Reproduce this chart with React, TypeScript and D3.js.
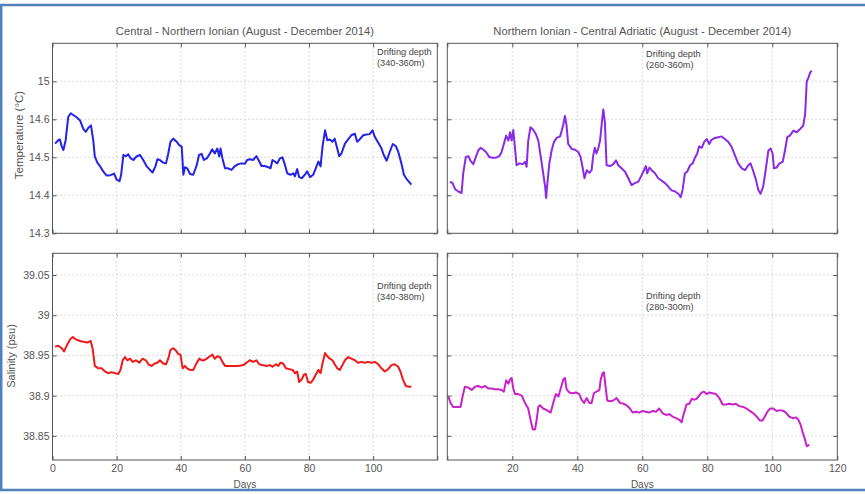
import { useEffect, useRef } from 'react';
import * as d3 from 'd3';

// days since deployment
const dayTicks = [0, 20, 40, 60, 80, 100, 120];
const tempTicks = [14.3, 14.4, 14.5, 14.6, 14.7];
const tempTickLabels = ['14.3', '14.4', '14.5', '14.6', '15'];
const salTicks = [38.85, 38.9, 38.95, 39, 39.05];
const salTickLabels = ['38.85', '38.9', '38.95', '39', '39.05'];

const titles = [
  'Central - Northern Ionian (August - December 2014)',
  'Northern Ionian - Central Adriatic (August - December 2014)',
];
const depths = ['(340-360m)', '(260-360m)', '(340-380m)', '(280-300m)'];

// [day, temperature °C]
const tempIonian: [number, number][] = [
  [0.8,14.536],[1.8,14.545],[2.3,14.547],[2.9,14.528],[3.4,14.519],[4.1,14.545],[4.9,14.606],[5.7,14.616],[6.7,14.61],[7.7,14.604],
  [8.6,14.597],[9.6,14.575],[10.4,14.567],[11.2,14.578],[12.0,14.584],[12.7,14.545],[13.2,14.502],[14.0,14.486],[14.8,14.477],[15.8,14.463],
  [16.9,14.452],[18.1,14.453],[19.2,14.457],[20.0,14.441],[20.9,14.437],[21.4,14.454],[22.1,14.506],[22.9,14.503],[23.6,14.508],[24.4,14.497],
  [25.2,14.493],[26.2,14.502],[27.3,14.506],[28.3,14.493],[29.4,14.476],[30.4,14.467],[31.2,14.46],[32.1,14.476],[32.7,14.495],[33.5,14.493],
  [34.5,14.486],[35.4,14.484],[36.1,14.51],[36.8,14.541],[37.7,14.549],[38.7,14.541],[39.5,14.532],[40.3,14.528],[40.8,14.454],[41.3,14.474],
  [42.0,14.471],[42.9,14.456],[43.9,14.454],[45.0,14.48],[45.7,14.506],[46.5,14.509],[47.2,14.493],[48.1,14.497],[49.1,14.51],[49.8,14.521],
  [50.6,14.51],[51.4,14.523],[52.0,14.502],[52.4,14.523],[53.0,14.497],[53.8,14.471],[54.8,14.471],[55.8,14.467],[56.9,14.477],[57.9,14.482],
  [58.9,14.484],[60.0,14.483],[60.7,14.493],[61.5,14.495],[62.6,14.493],[63.6,14.503],[64.5,14.489],[65.2,14.477],[66.2,14.477],[67.3,14.474],
  [68.0,14.471],[68.6,14.493],[69.3,14.489],[70.1,14.484],[70.9,14.497],[71.7,14.5],[72.5,14.48],[73.2,14.458],[74.2,14.454],[75.1,14.458],
  [75.6,14.45],[76.3,14.469],[76.9,14.448],[77.7,14.445],[78.7,14.454],[79.4,14.463],[80.3,14.448],[81.3,14.454],[82.1,14.471],[82.9,14.489],
  [83.6,14.476],[84.2,14.528],[85.0,14.571],[85.7,14.545],[86.5,14.547],[87.3,14.541],[88.0,14.549],[88.8,14.523],[89.4,14.503],[90.1,14.51],
  [91.2,14.536],[92.2,14.547],[93.2,14.558],[94.3,14.562],[95.0,14.541],[95.8,14.547],[96.9,14.558],[97.9,14.56],[98.9,14.561],[99.8,14.571],
  [100.5,14.554],[101.6,14.538],[102.6,14.523],[103.3,14.506],[104.2,14.491],[105.0,14.51],[106.1,14.535],[107.1,14.529],[107.8,14.515],[108.8,14.484],
  [109.6,14.454],[110.6,14.441],[111.9,14.428],
];

const tempAdriatic: [number, number][] = [
  [0.8,14.436],[1.6,14.432],[2.4,14.416],[3.4,14.41],[4.4,14.406],[4.9,14.458],[5.7,14.501],[6.5,14.503],[7.2,14.49],[8.0,14.482],
  [8.8,14.501],[9.5,14.518],[10.3,14.525],[11.1,14.52],[11.9,14.514],[12.9,14.501],[13.9,14.499],[15.0,14.499],[16.0,14.503],[16.7,14.514],
  [17.4,14.535],[18.1,14.557],[18.8,14.544],[19.3,14.566],[19.8,14.544],[20.3,14.572],[20.8,14.527],[21.3,14.479],[22.2,14.484],[23.2,14.482],
  [23.9,14.488],[24.4,14.475],[24.9,14.544],[25.6,14.579],[26.5,14.572],[27.3,14.56],[28.0,14.544],[28.7,14.505],[29.5,14.458],[30.1,14.423],
  [30.4,14.393],[30.8,14.432],[31.4,14.484],[32.1,14.518],[32.8,14.54],[33.6,14.551],[34.7,14.555],[35.2,14.57],[35.7,14.587],[36.2,14.609],
  [36.7,14.583],[37.2,14.535],[38.3,14.522],[39.3,14.52],[40.3,14.514],[41.0,14.501],[41.6,14.475],[42.2,14.445],[42.9,14.466],[43.7,14.459],
  [44.4,14.466],[44.9,14.505],[45.4,14.525],[45.9,14.51],[46.5,14.525],[47.0,14.544],[47.5,14.587],[48.0,14.626],[48.5,14.592],[49.0,14.479],
  [50.1,14.477],[51.1,14.482],[51.9,14.492],[52.6,14.479],[53.6,14.471],[54.7,14.462],[55.7,14.445],[56.7,14.427],[57.7,14.432],[58.8,14.436],
  [59.8,14.453],[60.5,14.466],[61.1,14.477],[61.5,14.458],[62.2,14.473],[62.9,14.466],[63.9,14.458],[64.9,14.445],[65.9,14.439],[67.0,14.432],
  [68.0,14.423],[69.0,14.413],[70.1,14.41],[71.1,14.404],[71.8,14.395],[72.4,14.414],[73.1,14.458],[73.8,14.462],[74.7,14.479],[75.5,14.484],
  [76.2,14.499],[76.9,14.51],[77.5,14.529],[78.3,14.525],[79.0,14.54],[79.8,14.548],[80.6,14.535],[81.3,14.546],[82.4,14.551],[83.4,14.553],
  [84.4,14.555],[85.4,14.548],[86.5,14.54],[87.5,14.527],[88.5,14.505],[89.5,14.484],[90.6,14.471],[91.6,14.466],[92.6,14.479],[93.3,14.484],
  [94.2,14.462],[95.0,14.44],[95.7,14.414],[96.4,14.404],[97.2,14.423],[98.1,14.475],[98.8,14.518],[99.5,14.523],[100.1,14.51],[100.5,14.471],
  [101.3,14.473],[102.2,14.484],[103.2,14.488],[103.9,14.518],[104.6,14.553],[105.4,14.557],[106.5,14.57],[107.5,14.566],[108.5,14.574],[109.5,14.583],
  [110.1,14.613],[110.6,14.7],[111.1,14.709],[111.6,14.722],[112.1,14.728],
];

// [day, salinity psu]
const salIonian: [number, number][] = [
  [0.8,38.961],[1.8,38.962],[2.9,38.959],[3.6,38.955],[4.4,38.962],[5.5,38.97],[6.3,38.973],[7.3,38.97],[8.6,38.968],[9.6,38.967],
  [10.9,38.966],[11.9,38.968],[12.5,38.959],[13.2,38.937],[14.3,38.934],[15.3,38.934],[16.4,38.93],[17.4,38.928],[18.4,38.929],[19.5,38.928],
  [20.5,38.927],[21.2,38.932],[21.9,38.944],[22.6,38.948],[23.3,38.944],[24.2,38.946],[25.0,38.942],[26.0,38.944],[27.1,38.941],[28.1,38.946],
  [29.1,38.944],[29.9,38.939],[30.9,38.937],[31.9,38.94],[32.7,38.941],[33.5,38.944],[34.5,38.94],[35.4,38.939],[36.1,38.946],[36.8,38.957],
  [37.7,38.959],[38.5,38.956],[39.2,38.952],[39.9,38.951],[40.6,38.934],[41.3,38.937],[42.0,38.934],[42.9,38.932],[43.9,38.932],[45.0,38.941],
  [45.8,38.946],[46.5,38.944],[47.2,38.944],[48.1,38.946],[49.1,38.949],[49.9,38.951],[50.6,38.946],[51.4,38.949],[52.2,38.948],[53.0,38.942],
  [53.8,38.937],[54.8,38.937],[56.4,38.937],[57.9,38.937],[59.5,38.938],[60.5,38.941],[61.5,38.944],[62.6,38.942],[63.6,38.944],[64.5,38.939],
  [65.5,38.938],[66.8,38.937],[67.8,38.938],[68.6,38.936],[69.7,38.939],[70.4,38.937],[71.1,38.941],[71.9,38.94],[72.8,38.934],[73.8,38.933],
  [74.9,38.932],[75.6,38.928],[76.3,38.93],[76.9,38.917],[77.7,38.92],[78.4,38.926],[79.0,38.927],[79.7,38.917],[80.5,38.916],[81.3,38.92],
  [82.1,38.926],[82.9,38.932],[83.6,38.928],[84.2,38.94],[85.0,38.953],[85.7,38.949],[86.5,38.946],[87.3,38.944],[88.0,38.939],[88.8,38.934],
  [89.6,38.932],[90.4,38.938],[91.2,38.944],[92.2,38.948],[93.2,38.946],[94.3,38.944],[95.3,38.941],[96.4,38.942],[97.4,38.941],[98.4,38.942],
  [99.5,38.941],[100.5,38.942],[101.6,38.939],[102.6,38.934],[103.6,38.93],[104.7,38.933],[105.7,38.938],[106.7,38.939],[107.8,38.936],[108.5,38.93],
  [109.3,38.92],[110.2,38.912],[111.2,38.911],[111.9,38.911],
];

const salAdriatic: [number, number][] = [
  [0.3,38.899],[1.0,38.891],[1.8,38.886],[2.9,38.886],[4.1,38.886],[4.7,38.899],[5.4,38.911],[6.5,38.91],[7.5,38.907],[8.5,38.911],
  [9.5,38.912],[10.6,38.91],[11.6,38.912],[12.6,38.909],[13.6,38.909],[14.7,38.908],[15.7,38.908],[16.7,38.907],[17.4,38.905],[18.1,38.919],
  [18.8,38.915],[19.3,38.92],[19.8,38.922],[20.3,38.909],[20.8,38.902],[21.8,38.902],[22.9,38.9],[23.9,38.891],[24.9,38.884],[25.6,38.87],
  [26.3,38.858],[27.0,38.858],[27.5,38.87],[28.0,38.886],[28.5,38.888],[29.5,38.884],[30.6,38.882],[31.8,38.879],[32.6,38.891],[33.4,38.902],
  [34.2,38.899],[34.9,38.909],[35.7,38.92],[36.2,38.922],[36.7,38.908],[37.5,38.904],[38.6,38.903],[39.6,38.904],[40.6,38.902],[41.3,38.895],
  [42.1,38.891],[42.9,38.897],[43.7,38.891],[44.4,38.891],[45.1,38.903],[45.9,38.905],[46.8,38.907],[47.2,38.92],[47.8,38.928],[48.2,38.929],
  [48.7,38.911],[49.2,38.894],[50.1,38.893],[51.1,38.894],[52.1,38.897],[53.1,38.891],[54.2,38.89],[55.2,38.888],[56.2,38.884],[57.0,38.879],
  [58.1,38.88],[59.1,38.879],[60.1,38.881],[61.1,38.88],[62.2,38.879],[63.2,38.881],[64.2,38.88],[65.2,38.884],[66.3,38.878],[67.3,38.876],
  [68.3,38.877],[69.3,38.874],[70.4,38.872],[71.4,38.87],[72.1,38.867],[72.8,38.878],[73.6,38.889],[74.5,38.89],[75.2,38.896],[75.9,38.895],
  [76.7,38.896],[77.5,38.9],[78.3,38.904],[79.0,38.905],[79.8,38.902],[80.6,38.904],[81.6,38.903],[82.7,38.902],[83.7,38.897],[84.7,38.889],
  [85.7,38.889],[86.8,38.89],[87.8,38.889],[88.8,38.89],[89.8,38.887],[91.1,38.886],[92.1,38.884],[93.1,38.881],[94.2,38.878],[95.2,38.874],
  [96.2,38.869],[97.0,38.869],[97.7,38.874],[98.5,38.88],[99.3,38.884],[100.3,38.884],[101.3,38.881],[102.4,38.882],[103.4,38.881],[104.2,38.879],
  [105.2,38.874],[106.3,38.872],[107.3,38.873],[108.0,38.87],[108.7,38.864],[109.3,38.855],[110.1,38.845],[110.6,38.837],[111.4,38.839],
];

const FONT = '"Liberation Sans", Arial, sans-serif';
const TXT = '#555';

const App = () => {
  const svgRef = useRef<SVGSVGElement>(null);

  useEffect(() => {
    const svg = d3.select(svgRef.current);
    svg.selectAll('*').remove();

    const cols = [[52.5, 437.3], [447.3, 837.3]];
    const rows = [[43.3, 233.3], [253.3, 460]];

    const panels = [
      { c: 0, r: 0, data: tempIonian, color: '#2222e8', domain: [14.3, 14.8], ticks: tempTicks, labels: tempTickLabels, depth: depths[0], note: [377, 55] },
      { c: 1, r: 0, data: tempAdriatic, color: '#8a2ae6', domain: [14.3, 14.8], ticks: tempTicks, labels: tempTickLabels, depth: depths[1], note: [646, 57] },
      { c: 0, r: 1, data: salIonian, color: '#f01818', domain: [38.82, 39.077], ticks: salTicks, labels: salTickLabels, depth: depths[2], note: [377, 289] },
      { c: 1, r: 1, data: salAdriatic, color: '#c822c8', domain: [38.82, 39.077], ticks: salTicks, labels: salTickLabels, depth: depths[3], note: [646, 299] },
    ];

    panels.forEach((p) => {
      const [x0, x1] = cols[p.c];
      const [y0, y1] = rows[p.r];
      const x = d3.scaleLinear().domain([0, 120]).range([x0, x1]);
      const y = d3.scaleLinear().domain(p.domain).range([y1, y0]);
      const g = svg.append('g');

      g.append('rect').attr('x', x0).attr('y', y0).attr('width', x1 - x0).attr('height', y1 - y0).attr('fill', '#fff');

      // dotted grid
      g.selectAll('.vg').data(dayTicks.slice(1, -1)).join('line')
        .attr('x1', (d) => x(d)).attr('x2', (d) => x(d)).attr('y1', y0).attr('y2', y1)
        .attr('stroke', '#cdcdcd').attr('stroke-dasharray', '1.5 2.5');
      g.selectAll('.hg').data(p.ticks.filter((t) => y(t) < y1 - 1)).join('line')
        .attr('x1', x0).attr('x2', x1).attr('y1', (d) => y(d)).attr('y2', (d) => y(d))
        .attr('stroke', '#cdcdcd').attr('stroke-dasharray', '1.5 2.5');

      const lineGen = d3.line<[number, number]>().x((d) => x(d[0])).y((d) => y(d[1]));
      g.append('path').datum(p.data).attr('d', lineGen)
        .attr('fill', 'none').attr('stroke', p.color).attr('stroke-width', 2).attr('stroke-linejoin', 'round');

      g.append('rect').attr('x', x0).attr('y', y0).attr('width', x1 - x0).attr('height', y1 - y0)
        .attr('fill', 'none').attr('stroke', '#555').attr('stroke-width', 1);

      const showX = p.r === 1;
      const bottom = d3.axisBottom(x).tickValues(dayTicks).tickSizeInner(-4).tickSizeOuter(0).tickPadding(5)
        .tickFormat((d) => {
          if (!showX) return '';
          if (p.c === 0 && d === 120) return '';
          if (p.c === 1 && d === 0) return '';
          return String(d);
        });
      const top = d3.axisTop(x).tickValues(dayTicks).tickSizeInner(-4).tickSizeOuter(0).tickFormat(() => '');
      const left = d3.axisLeft(y).tickValues(p.ticks).tickSizeInner(-4).tickSizeOuter(0).tickPadding(3)
        .tickFormat((d) => (p.c === 0 ? p.labels[p.ticks.indexOf(d as number)] : ''));
      const right = d3.axisRight(y).tickValues(p.ticks).tickSizeInner(-4).tickSizeOuter(0).tickFormat(() => '');

      [
        [bottom, `translate(0,${y1})`],
        [top, `translate(0,${y0})`],
        [left, `translate(${x0},0)`],
        [right, `translate(${x1},0)`],
      ].forEach(([ax, tr]) => {
        const a = g.append('g').attr('transform', tr as string).call(ax as any);
        a.select('.domain').remove();
        a.selectAll('line').attr('stroke', '#555');
        a.selectAll('text').attr('font-family', FONT).attr('font-size', 10.5).attr('fill', TXT);
      });

      const note = g.append('text').attr('x', p.note[0]).attr('y', p.note[1])
        .attr('font-family', FONT).attr('font-size', 9.2).attr('fill', '#444');
      note.append('tspan').attr('x', p.note[0]).text('Drifting depth');
      note.append('tspan').attr('x', p.note[0]).attr('dy', 11).text(p.depth);

      if (p.r === 1) {
        g.append('text').attr('x', (x0 + x1) / 2).attr('y', 488).attr('text-anchor', 'middle')
          .attr('font-family', FONT).attr('font-size', 10).attr('fill', TXT).text('Days');
      }
      if (p.r === 0) {
        g.append('text').attr('x', (x0 + x1) / 2).attr('y', 35).attr('text-anchor', 'middle')
          .attr('font-family', FONT).attr('font-size', 11.2).attr('fill', TXT).text(titles[p.c]);
      }
    });

    svg.append('text').attr('transform', 'translate(23,135) rotate(-90)').attr('text-anchor', 'middle')
      .attr('font-family', FONT).attr('font-size', 11.5).attr('fill', TXT).text('Temperature (°C)');
    svg.append('text').attr('transform', 'translate(15,356) rotate(-90)').attr('text-anchor', 'middle')
      .attr('font-family', FONT).attr('font-size', 11).attr('fill', TXT).text('Salinity (psu)');

    // page frame
    svg.append('path').attr('d', 'M0,5H865M1.2,5V490M0,490H865')
      .attr('fill', 'none').attr('stroke', '#4f81bd').attr('stroke-width', 2.5);
  }, []);

  return (
    <svg ref={svgRef} width={865} height={494} style={{ position: 'absolute', left: 0, top: 0, background: '#fff' }} />
  );
};

export default App;
